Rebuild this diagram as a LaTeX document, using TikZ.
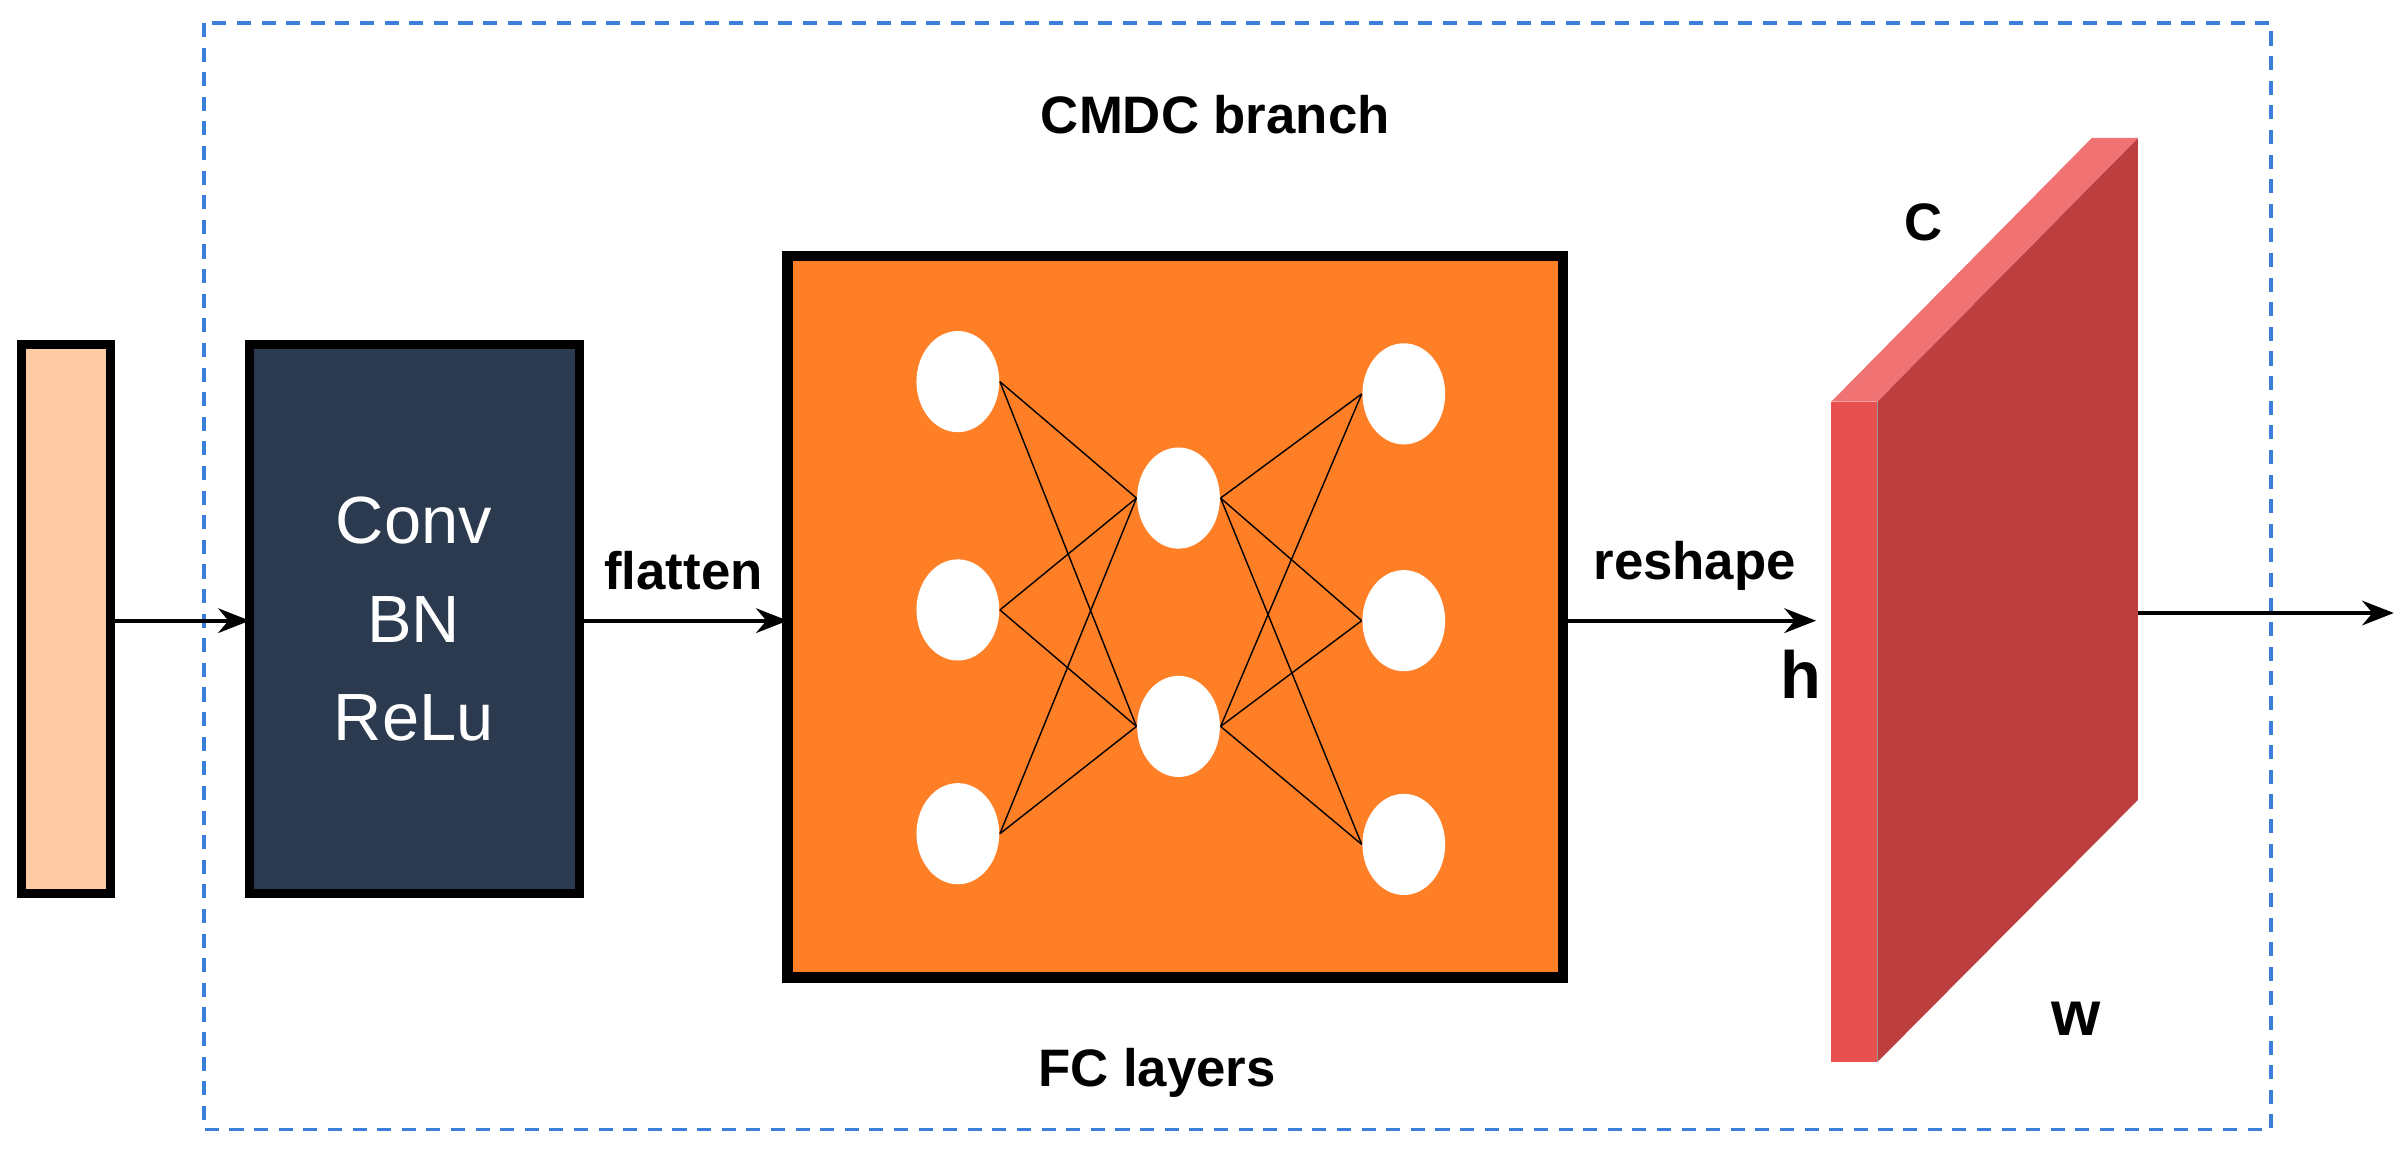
\documentclass[tikz,border=0pt]{standalone}
\usepackage{fontspec}
\setmainfont{Liberation Sans}
\usetikzlibrary{arrows.meta,shapes.geometric}
\definecolor{peach}{HTML}{FFCBA4}
\definecolor{navy}{HTML}{2B3A4F}
\definecolor{orng}{HTML}{FF7F27}
\definecolor{redA}{HTML}{E85050}
\definecolor{redB}{HTML}{BC3E3E}
\definecolor{redC}{HTML}{F07272}
\definecolor{dblue}{HTML}{3C7FD8}
\begin{document}
\begin{tikzpicture}[x=0.015325cm,y=-0.015325cm,
  lbl/.style={font=\bfseries\fontsize{15}{18}\selectfont,inner sep=0},
  neu/.style={ellipse,fill=white,minimum width=54\pgflinewidth,inner sep=0,draw=none},
  arr/.style={-{Stealth[length=9pt,width=7pt]},line width=1.2pt},
  box/.style={draw=black,line width=2.5pt}]
\useasboundingbox (0,0) rectangle (1568,755);
\draw[dblue,dashed,line width=1pt,dash pattern=on 4pt off 3pt] (133,15) rectangle (1482,737);
\node[lbl] (title) at (793,75) {CMDC branch};
\node[lbl] (fc) at (755,700) {FC layers};
\draw[box,fill=peach] (14,225) rectangle (72,583);
\coordinate (in) at (72,405);
\draw[box,fill=navy] (163,225) rectangle (378,583);
\node[text=white,font=\fontsize{19}{28}\selectfont,align=center] (conv) at (270,404) {Conv\\BN\\ReLu};
\coordinate (convL) at (163,405);
\coordinate (convR) at (378,405);
\draw[box,line width=3pt,fill=orng] (514,167) rectangle (1020,638);
\coordinate (fcL) at (514,405);
\coordinate (fcR) at (1020,405);
\foreach \n/\x/\y in {a1/625/249,a2/625/398,a3/625/544,b1/769/325,b2/769/474,c1/916/257,c2/916/405,c3/916/551}
  \node[ellipse,fill=white,minimum width=54*0.015325cm,minimum height=66*0.015325cm,inner sep=0] (\n) at (\x,\y) {};
\foreach \a in {a1,a2,a3} \foreach \b in {b1,b2} \draw[line width=0.4pt] (\a.east) -- (\b.west);
\foreach \b in {b1,b2} \foreach \c in {c1,c2,c3} \draw[line width=0.4pt] (\b.east) -- (\c.west);
% slab
\fill[redB] (1225,262) -- (1395,90) -- (1395,522) -- (1225,693) -- cycle;
\fill[redC] (1195,262) -- (1365,90) -- (1395,90) -- (1225,262) -- cycle;
\fill[redA] (1195,262) rectangle (1225,693);
\draw[black!40,line width=0.3pt] (1225,262)--(1225,693);
\coordinate (slabL) at (1185,405);
\coordinate (slabR) at (1395,400);
\coordinate (out) at (1562,400);
\draw[arr] (in) -- (convL);
\draw[arr] (convR) -- node[lbl,above=8pt] {flatten} (fcL);
\draw[arr] (fcR) -- node[lbl,above=8pt,pos=0.52] {reshape} (slabL);
\draw[arr] (slabR) -- (out);
\node[lbl,font=\bfseries\fontsize{19}{22}\selectfont] (h) at (1175,440) {h};
\node[lbl] (c) at (1255,145) {C};
\node[lbl,font=\bfseries\fontsize{18}{22}\selectfont] (w) at (1355,665) {w};
\end{tikzpicture}
\end{document}
